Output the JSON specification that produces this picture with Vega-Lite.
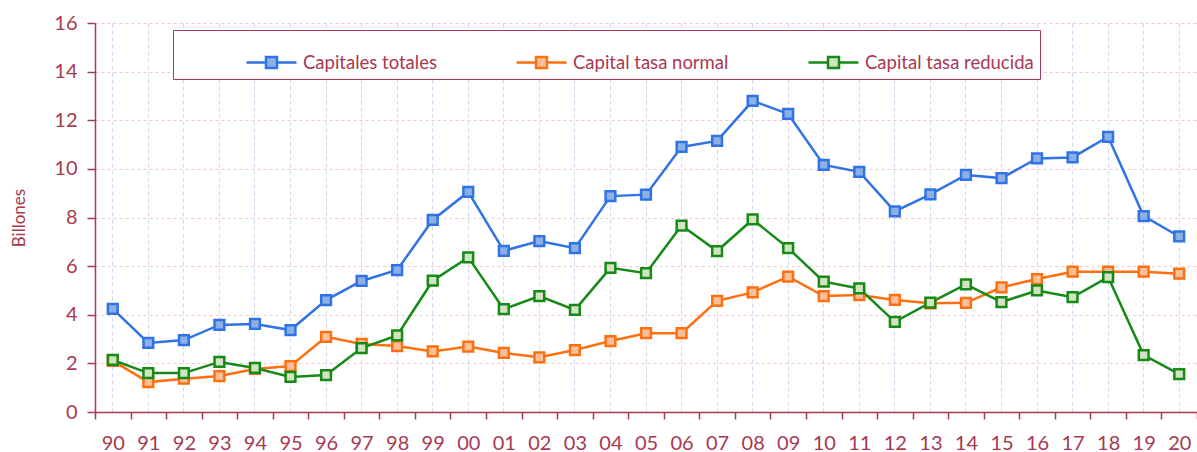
{
  "$schema": "https://vega.github.io/schema/vega-lite/v6.json",
  "width": 1102,
  "height": 389,
  "autosize": {"type": "none"},
  "padding": {"left": 95, "top": 23, "right": 0, "bottom": 40},
  "background": "white",
  "config": {
    "view": {"stroke": null},
    "font": "Lato",
    "axis": {"labelFont": "Lato", "titleFont": "Lato"},
    "legend": {"labelFont": "Lato"}
  },
  "data": {
    "values": [
      {"yr":"90","s":"Capitales totales","v":4.24},
      {"yr":"91","s":"Capitales totales","v":2.84},
      {"yr":"92","s":"Capitales totales","v":2.96},
      {"yr":"93","s":"Capitales totales","v":3.58},
      {"yr":"94","s":"Capitales totales","v":3.62},
      {"yr":"95","s":"Capitales totales","v":3.37},
      {"yr":"96","s":"Capitales totales","v":4.6},
      {"yr":"97","s":"Capitales totales","v":5.39},
      {"yr":"98","s":"Capitales totales","v":5.84},
      {"yr":"99","s":"Capitales totales","v":7.9},
      {"yr":"00","s":"Capitales totales","v":9.05},
      {"yr":"01","s":"Capitales totales","v":6.63},
      {"yr":"02","s":"Capitales totales","v":7.03},
      {"yr":"03","s":"Capitales totales","v":6.74},
      {"yr":"04","s":"Capitales totales","v":8.88},
      {"yr":"05","s":"Capitales totales","v":8.94},
      {"yr":"06","s":"Capitales totales","v":10.9},
      {"yr":"07","s":"Capitales totales","v":11.15},
      {"yr":"08","s":"Capitales totales","v":12.8},
      {"yr":"09","s":"Capitales totales","v":12.26},
      {"yr":"10","s":"Capitales totales","v":10.16},
      {"yr":"11","s":"Capitales totales","v":9.88},
      {"yr":"12","s":"Capitales totales","v":8.25},
      {"yr":"13","s":"Capitales totales","v":8.95},
      {"yr":"14","s":"Capitales totales","v":9.75},
      {"yr":"15","s":"Capitales totales","v":9.62},
      {"yr":"16","s":"Capitales totales","v":10.43},
      {"yr":"17","s":"Capitales totales","v":10.47},
      {"yr":"18","s":"Capitales totales","v":11.32},
      {"yr":"19","s":"Capitales totales","v":8.06},
      {"yr":"20","s":"Capitales totales","v":7.22},
      {"yr":"90","s":"Capital tasa normal","v":2.1},
      {"yr":"91","s":"Capital tasa normal","v":1.23},
      {"yr":"92","s":"Capital tasa normal","v":1.37},
      {"yr":"93","s":"Capital tasa normal","v":1.48},
      {"yr":"94","s":"Capital tasa normal","v":1.77},
      {"yr":"95","s":"Capital tasa normal","v":1.89},
      {"yr":"96","s":"Capital tasa normal","v":3.09},
      {"yr":"97","s":"Capital tasa normal","v":2.8},
      {"yr":"98","s":"Capital tasa normal","v":2.71},
      {"yr":"99","s":"Capital tasa normal","v":2.49},
      {"yr":"00","s":"Capital tasa normal","v":2.69},
      {"yr":"01","s":"Capital tasa normal","v":2.43},
      {"yr":"02","s":"Capital tasa normal","v":2.25},
      {"yr":"03","s":"Capital tasa normal","v":2.55},
      {"yr":"04","s":"Capital tasa normal","v":2.92},
      {"yr":"05","s":"Capital tasa normal","v":3.24},
      {"yr":"06","s":"Capital tasa normal","v":3.24},
      {"yr":"07","s":"Capital tasa normal","v":4.57},
      {"yr":"08","s":"Capital tasa normal","v":4.92},
      {"yr":"09","s":"Capital tasa normal","v":5.57},
      {"yr":"10","s":"Capital tasa normal","v":4.77},
      {"yr":"11","s":"Capital tasa normal","v":4.81},
      {"yr":"12","s":"Capital tasa normal","v":4.61},
      {"yr":"13","s":"Capital tasa normal","v":4.47},
      {"yr":"14","s":"Capital tasa normal","v":4.49},
      {"yr":"15","s":"Capital tasa normal","v":5.13},
      {"yr":"16","s":"Capital tasa normal","v":5.47},
      {"yr":"17","s":"Capital tasa normal","v":5.77},
      {"yr":"18","s":"Capital tasa normal","v":5.77},
      {"yr":"19","s":"Capital tasa normal","v":5.77},
      {"yr":"20","s":"Capital tasa normal","v":5.69},
      {"yr":"90","s":"Capital tasa reducida","v":2.14},
      {"yr":"91","s":"Capital tasa reducida","v":1.6},
      {"yr":"92","s":"Capital tasa reducida","v":1.6},
      {"yr":"93","s":"Capital tasa reducida","v":2.06},
      {"yr":"94","s":"Capital tasa reducida","v":1.81},
      {"yr":"95","s":"Capital tasa reducida","v":1.44},
      {"yr":"96","s":"Capital tasa reducida","v":1.52},
      {"yr":"97","s":"Capital tasa reducida","v":2.63},
      {"yr":"98","s":"Capital tasa reducida","v":3.15},
      {"yr":"99","s":"Capital tasa reducida","v":5.4},
      {"yr":"00","s":"Capital tasa reducida","v":6.36},
      {"yr":"01","s":"Capital tasa reducida","v":4.23},
      {"yr":"02","s":"Capital tasa reducida","v":4.77},
      {"yr":"03","s":"Capital tasa reducida","v":4.2},
      {"yr":"04","s":"Capital tasa reducida","v":5.93},
      {"yr":"05","s":"Capital tasa reducida","v":5.71},
      {"yr":"06","s":"Capital tasa reducida","v":7.67},
      {"yr":"07","s":"Capital tasa reducida","v":6.62},
      {"yr":"08","s":"Capital tasa reducida","v":7.92},
      {"yr":"09","s":"Capital tasa reducida","v":6.74},
      {"yr":"10","s":"Capital tasa reducida","v":5.36},
      {"yr":"11","s":"Capital tasa reducida","v":5.08},
      {"yr":"12","s":"Capital tasa reducida","v":3.71},
      {"yr":"13","s":"Capital tasa reducida","v":4.5},
      {"yr":"14","s":"Capital tasa reducida","v":5.25},
      {"yr":"15","s":"Capital tasa reducida","v":4.52},
      {"yr":"16","s":"Capital tasa reducida","v":5.0},
      {"yr":"17","s":"Capital tasa reducida","v":4.72},
      {"yr":"18","s":"Capital tasa reducida","v":5.55},
      {"yr":"19","s":"Capital tasa reducida","v":2.34},
      {"yr":"20","s":"Capital tasa reducida","v":1.56}
    ]
  },
  "resolve": {"axis": {"x": "independent"}},
  "layer": [
    {
      "mark": {"type": "line", "strokeWidth": 2.5},
      "encoding": {
        "x": {
          "field": "yr", "type": "nominal", "sort": null, "bandPosition": 0.5,
          "scale": {"type": "band", "paddingInner": 0, "paddingOuter": 0},
          "axis": {
            "title": null, "labelAngle": 0, "tickBand": "extent", "grid": false,
            "domainColor": "#A8394F", "domainWidth": 1.5, "tickColor": "#A8394F", "tickWidth": 1.5, "tickSize": 7,
            "labelColor": "#A8394F", "labelFontSize": 20, "labelPadding": 14, "labelBound": false, "labelOverlap": false
          }
        },
        "y": {
          "field": "v", "type": "quantitative",
          "scale": {"domain": [0, 16], "nice": false},
          "axis": {
            "title": "Billones", "titleColor": "#A8394F", "titleFontSize": 17, "titleFontWeight": "normal", "titlePadding": 25,
            "values": [0, 2, 4, 6, 8, 10, 12, 14, 16],
            "domainColor": "#A8394F", "domainWidth": 1.5, "tickColor": "#A8394F", "tickWidth": 1.5, "tickSize": 8,
            "labelColor": "#A8394F", "labelFontSize": 20, "labelPadding": 10,
            "grid": true, "gridColor": "#F0C6CF", "gridDash": [3, 3], "gridWidth": 1
          }
        },
        "stroke": {
          "field": "s", "type": "nominal",
          "scale": {"domain": ["Capitales totales", "Capital tasa normal", "Capital tasa reducida"], "range": ["#2F73E6", "#FF6F10", "#168A16"]},
          "legend": {
            "title": null, "orient": "none", "direction": "horizontal", "legendX": 78, "legendY": 7,
            "strokeColor": "#A8394F", "fillColor": "white", "padding": 6,
            "symbolType": "M-1,0H-0.22M0.22,0H1M-0.22,-0.22H0.22V0.22H-0.22Z", "symbolSize": 2500, "symbolStrokeWidth": 2.5,
            "symbolOffset": 66, "columnPadding": 12,
            "labelFontSize": 18.5, "labelColor": "#A8394F", "labelOffset": 5, "labelLimit": 400
          }
        }
      }
    },
    {
      "mark": {"type": "point", "shape": "square", "size": 95, "strokeWidth": 2.5, "opacity": 1, "filled": false},
      "encoding": {
        "x": {
          "field": "yr", "type": "nominal", "sort": null, "bandPosition": 0.5,
          "axis": {"orient": "top", "title": null, "labels": false, "ticks": false, "domain": false, "grid": true, "gridColor": "#CCDAF2", "gridDash": [4, 3], "gridWidth": 1}
        },
        "y": {"field": "v", "type": "quantitative"},
        "stroke": {"field": "s", "type": "nominal"},
        "fill": {
          "field": "s", "type": "nominal",
          "scale": {"domain": ["Capitales totales", "Capital tasa normal", "Capital tasa reducida"], "range": ["#8CB0E4", "#F8C09A", "#D3E2C0"]}
        }
      }
    }
  ]
}
